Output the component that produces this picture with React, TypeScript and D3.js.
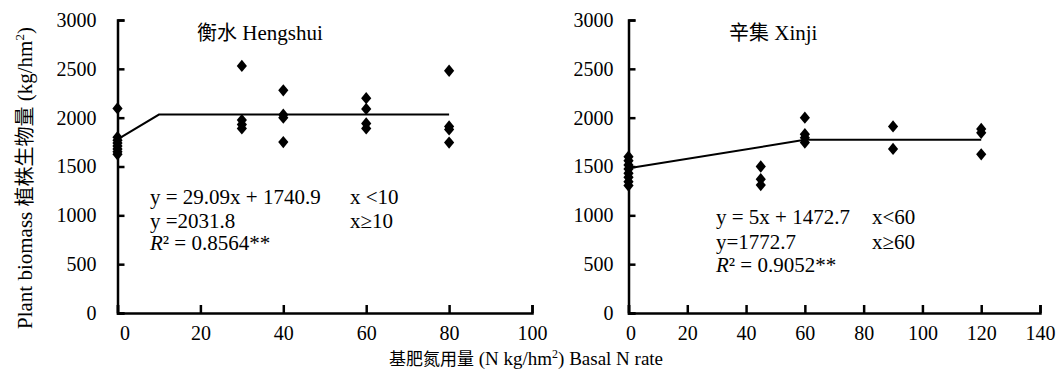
import { useEffect, useRef } from 'react'
import * as d3 from 'd3'

// Hengshui: basal N rate vs plant biomass
const hengshuiRate = [0, 0, 0, 0, 0, 0, 0, 0, 30, 30, 30, 30, 40, 40, 40, 40, 60, 60, 60, 60, 80, 80, 80, 80]
const hengshuiBiomass = [2095, 1800, 1770, 1740, 1710, 1680, 1650, 1625, 2530, 1975, 1930, 1890, 2280, 2030, 2000, 1750, 2200, 2090, 1940, 1890, 2480, 1910, 1880, 1745]
const hengshuiFitRate = [0, 10, 80]
const hengshuiFitBiomass = [1778, 2032, 2032]

// Xinji
const xinjiRate = [0, 0, 0, 0, 0, 0, 0, 0, 45, 45, 45, 60, 60, 60, 60, 90, 90, 120, 120, 120]
const xinjiBiomass = [1600, 1560, 1515, 1475, 1430, 1390, 1345, 1305, 1500, 1370, 1310, 2000, 1830, 1795, 1745, 1910, 1680, 1885, 1845, 1625]
const xinjiFitRate = [0, 60, 120]
const xinjiFitBiomass = [1481, 1773, 1773]

const biomassTicks = [0, 500, 1000, 1500, 2000, 2500, 3000]
const hengshuiRateTicks = [0, 20, 40, 60, 80, 100]
const xinjiRateTicks = [0, 20, 40, 60, 80, 100, 120, 140]

const hengshuiEquations = ['y = 29.09x + 1740.9', 'y =2031.8']
const hengshuiRanges = ['x <10', 'x\u226510']
const hengshuiR2 = '= 0.8564**'
const xinjiEquations = ['y = 5x + 1472.7', 'y=1772.7']
const xinjiRanges = ['x<60', 'x\u226560']
const xinjiR2 = '= 0.9052**'

const FONT = '"Liberation Serif", "DejaVu Serif", serif'
const CJK = '"Noto Sans CJK SC", sans-serif'

// diamond a bit wider than d3.symbolDiamond
const diamond = {
  draw(ctx: any, size: number) {
    const r = Math.sqrt(size) / 2
    const hh = r * 1.15
    const hw = r * 0.95
    ctx.moveTo(0, -hh)
    ctx.lineTo(hw, 0)
    ctx.lineTo(0, hh)
    ctx.lineTo(-hw, 0)
    ctx.closePath()
  },
}

function drawPanel(svg: any, cfg: any) {
  const x = d3.scaleLinear().domain(cfg.xDomain).range(cfg.xRange)
  const y = d3.scaleLinear().domain([0, 3000]).range([313, 20])
  const g = svg.append('g')

  g.append('g')
    .attr('transform', `translate(0,${y(0)})`)
    .call(d3.axisBottom(x).tickValues(cfg.xTicks).tickFormat(d3.format('d'))
      .tickSize(-8).tickSizeOuter(-8).tickPadding(13))
    .call((ax: any) => ax.attr('font-family', null).attr('font-size', null))
    .call((ax: any) => ax.selectAll('path,line').attr('stroke', '#000').attr('stroke-width', 2.5))
    .call((ax: any) => ax.selectAll('text').attr('fill', '#000')
      .style('font-family', FONT).style('font-size', '20px')
      .attr('dx', (d: number) => (d === 0 ? cfg.zeroDx : 0)))

  g.append('g')
    .attr('transform', `translate(${x(0)},0)`)
    .call(d3.axisLeft(y).tickValues(biomassTicks).tickFormat(d3.format('d'))
      .tickSize(-7).tickSizeOuter(-7).tickPadding(cfg.yPad))
    .call((ax: any) => ax.attr('font-family', null).attr('font-size', null))
    .call((ax: any) => ax.selectAll('path,line').attr('stroke', '#000').attr('stroke-width', 2.5))
    .call((ax: any) => ax.selectAll('text').attr('fill', '#000')
      .style('font-family', FONT).style('font-size', '20px'))

  const fit = cfg.fitX.map((v: number, i: number) => [v, cfg.fitY[i]])
  g.append('path')
    .datum(fit)
    .attr('fill', 'none').attr('stroke', '#000').attr('stroke-width', 2)
    .attr('d', d3.line().x((d: any) => x(d[0])).y((d: any) => y(d[1])))

  const pts = cfg.px.map((v: number, i: number) => [v, cfg.py[i]])
  g.selectAll('.pt').data(pts).enter().append('path')
    .attr('class', 'pt')
    .attr('transform', (d: any) => `translate(${x(d[0])},${y(d[1])})`)
    .attr('d', d3.symbol().type(diamond as any).size(115))
    .attr('fill', '#000')

  const tt = g.append('text')
    .attr('x', cfg.titleX).attr('y', 40)
    .style('font-family', FONT).style('font-size', '21px')
  tt.append('tspan').style('font-family', CJK).style('font-size', '20px').text(cfg.titleCn)
  tt.append('tspan').text(' ' + cfg.titleEn)

  const eq = g.append('g').style('font-family', FONT).style('font-size', '21px').attr('fill', '#000')
  cfg.eqs.forEach((t: string, i: number) => {
    eq.append('text').attr('x', cfg.eqX).attr('y', cfg.eqY[i]).text(t)
    eq.append('text').attr('x', cfg.rangeX).attr('y', cfg.eqY[i]).text(cfg.ranges[i])
  })
  const r2 = eq.append('text').attr('x', cfg.eqX).attr('y', cfg.eqY[2])
  r2.append('tspan').style('font-style', 'italic').text('R')
  r2.append('tspan').text('\u00b2 ' + cfg.r2)
}

export default function App() {
  const svgRef = useRef<SVGSVGElement>(null)

  useEffect(() => {
    document.body.style.margin = '0'
    const svg = d3.select(svgRef.current)
    svg.selectAll('*').remove()

    drawPanel(svg, {
      xDomain: [0, 100], xRange: [117.5, 532], xTicks: hengshuiRateTicks, zeroDx: 7, yPad: 21,
      px: hengshuiRate, py: hengshuiBiomass, fitX: hengshuiFitRate, fitY: hengshuiFitBiomass,
      titleCn: '衡水', titleEn: 'Hengshui', titleX: 197,
      eqs: hengshuiEquations, ranges: hengshuiRanges, r2: hengshuiR2,
      eqX: 150, rangeX: 350, eqY: [204, 228, 250],
    })
    drawPanel(svg, {
      xDomain: [0, 140], xRange: [628.5, 1040], xTicks: xinjiRateTicks, zeroDx: 2, yPad: 15,
      px: xinjiRate, py: xinjiBiomass, fitX: xinjiFitRate, fitY: xinjiFitBiomass,
      titleCn: '辛集', titleEn: 'Xinji', titleX: 729,
      eqs: xinjiEquations, ranges: xinjiRanges, r2: xinjiR2,
      eqX: 716, rangeX: 872, eqY: [224, 249, 272],
    })

    // y axis title
    const yt = svg.append('text')
      .attr('transform', 'translate(32,178) rotate(-90)')
      .attr('text-anchor', 'middle')
      .style('font-family', FONT).style('font-size', '21px')
    yt.append('tspan').text('Plant biomass ')
    yt.append('tspan').style('font-family', CJK).style('font-size', '20px').text('植株生物量')
    yt.append('tspan').text(' (kg/hm')
    yt.append('tspan').style('font-size', '13px').attr('dy', -8).text('2')
    yt.append('tspan').attr('dy', 8).text(')')

    // x axis title
    const xt = svg.append('text')
      .attr('x', 526).attr('y', 365)
      .attr('text-anchor', 'middle')
      .style('font-family', FONT).style('font-size', '19px')
    xt.append('tspan').style('font-family', CJK).style('font-size', '17px').text('基肥氮用量')
    xt.append('tspan').text(' (N kg/hm')
    xt.append('tspan').style('font-size', '12px').attr('dy', -7).text('2')
    xt.append('tspan').attr('dy', 7).text(') Basal N rate')

    return () => { svg.selectAll('*').remove() }
  }, [])

  return <svg ref={svgRef} width={1058} height={378} style={{ display: 'block', background: '#fff' }} />
}
